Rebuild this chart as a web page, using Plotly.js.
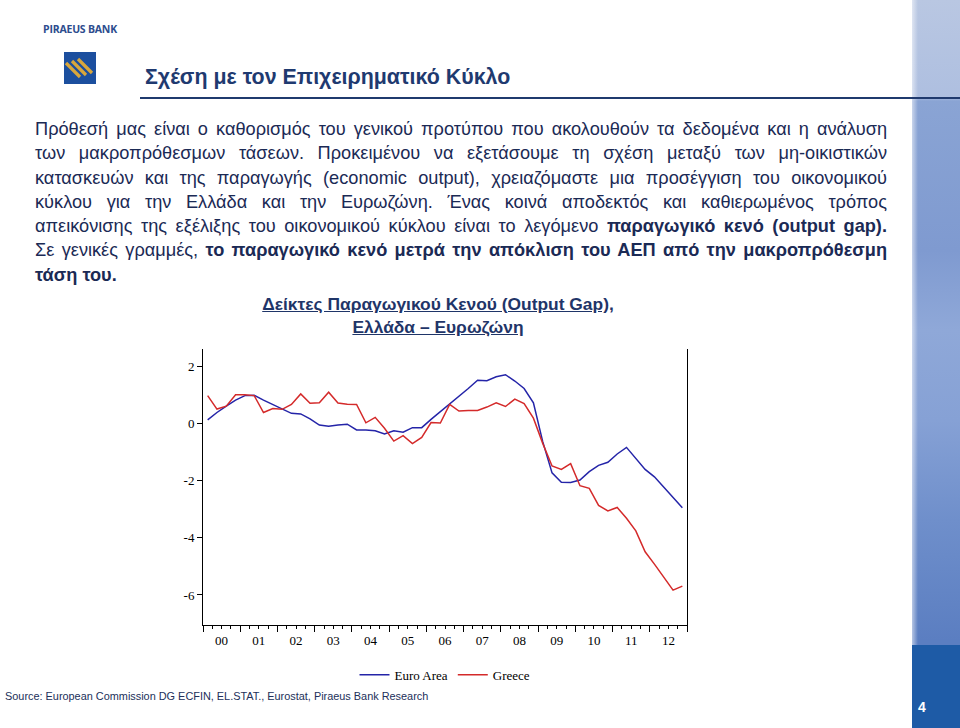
<!DOCTYPE html>
<html>
<head>
<meta charset="utf-8">
<script src="https://cdn.plot.ly/plotly-3.0.1.min.js"></script>
<style>
  html, body { margin:0; padding:0; background:#fff; }
  #page { position:relative; width:960px; height:728px; overflow:hidden; background:#fff; font-family:"Liberation Sans", Arial, sans-serif; }
  .abs { position:absolute; }
  #brand { left:43px; top:22px; font-family:"Open Sans","Liberation Sans",sans-serif; font-weight:700; font-size:10.5px; color:#2d4d8e; letter-spacing:-0.2px; }
  #title { left:145px; top:65px; font-size:21.4px; font-weight:700; color:#1f3a70; white-space:nowrap; }
  #rule { left:140px; top:97px; width:820px; height:2px; background:#1f3a6e; }
  #para { left:35px; top:117px; width:852px; font-size:18.2px; line-height:24.3px; color:#1b2a55; }
  #para .ln { text-align:justify; text-align-last:justify; white-space:nowrap; }
  #para .last { text-align:left; text-align-last:left; }
  #ctitle { left:238px; top:293px; width:400px; text-align:center; font-size:17.4px; font-weight:700; line-height:23px; color:#1f3568; text-decoration:underline; }
  #source { left:5px; top:690px; font-size:10.9px; color:#22305a; white-space:nowrap; }
  #strip { left:912px; top:0; width:48px; height:645px;
    background:
      linear-gradient(90deg, rgba(255,255,255,0.55) 0px, rgba(255,255,255,0) 6px),
      linear-gradient(180deg, #b9c7e2 0px, #aebfe0 97px, #8aa4d4 101px, #7f9ad0 250px, #8fa8d8 330px, #86a1d5 420px, #6f8fcb 520px, #5b7ec1 640px); }
  #stripline { left:912px; top:97px; width:48px; height:2px; background:#1f3a6e; }
  #pagebox { left:912px; top:645px; width:48px; height:83px; background:#1e5ba6; }
  #pagenum { left:918px; top:699px; color:#fff; font-weight:700; font-size:14px; }
  #chart { position:absolute; left:0; top:0; width:960px; height:728px; }
</style>
</head>
<body>
<div id="page">
  <div id="strip" class="abs"></div>
  <div id="stripline" class="abs"></div>
  <div id="pagebox" class="abs"></div>
  <div id="pagenum" class="abs">4</div>
  <div id="brand" class="abs">PIRAEUS BANK</div>
  <svg class="abs" style="left:64px;top:52px" width="32" height="32" viewBox="0 0 32 32">
    <rect x="0" y="0" width="32" height="32" fill="#1c4f9e"/>
    <g stroke="#d9a73c" stroke-width="3.2" stroke-linecap="butt">
      <line x1="2" y1="11" x2="16" y2="25"/>
      <line x1="8" y1="9" x2="22" y2="23"/>
      <line x1="14" y1="7" x2="28" y2="21"/>
    </g>
  </svg>
  <div id="title" class="abs">Σχέση με τον Επιχειρηματικό Κύκλο</div>
  <div id="rule" class="abs"></div>
  <div id="para" class="abs">
    <div class="ln">Πρόθεσή μας είναι ο καθορισμός του γενικού προτύπου που ακολουθούν τα δεδομένα και η ανάλυση</div>
    <div class="ln">των μακροπρόθεσμων τάσεων. Προκειμένου να εξετάσουμε τη σχέση μεταξύ των μη-οικιστικών</div>
    <div class="ln">κατασκευών και της παραγωγής (economic output), χρειαζόμαστε μια προσέγγιση του οικονομικού</div>
    <div class="ln">κύκλου για την Ελλάδα και την Ευρωζώνη. Ένας κοινά αποδεκτός και καθιερωμένος τρόπος</div>
    <div class="ln">απεικόνισης της εξέλιξης του οικονομικού κύκλου είναι το λεγόμενο <b>παραγωγικό κενό (output gap).</b></div>
    <div class="ln">Σε γενικές γραμμές, <b>το παραγωγικό κενό μετρά την απόκλιση του ΑΕΠ από την μακροπρόθεσμη</b></div>
    <div class="ln last"><b>τάση του.</b></div>
  </div>
  <div id="ctitle" class="abs">Δείκτες Παραγωγικού Κενού (Output Gap),<br>Ελλάδα – Ευρωζώνη</div>
  <div id="source" class="abs">Source: European Commission DG ECFIN, EL.STAT., Eurostat, Piraeus Bank Research</div>
  <div id="chart"></div>
</div>
<script>
// Quarterly output gap (% of potential), 2000Q1 - 2012Q4
const yearLabels = ['00','01','02','03','04','05','06','07','08','09','10','11','12'];
const euroArea = [0.12,0.38,0.60,0.81, 0.97,0.98,0.81,0.65, 0.51,0.35,0.33,0.16,
                  -0.06,-0.10,-0.06,-0.03, -0.23,-0.23,-0.26,-0.37, -0.26,-0.31,-0.15,-0.15,
                  0.14,0.41,0.66,0.93, 1.22,1.51,1.49,1.63, 1.70,1.48,1.22,0.72,
                  -0.64,-1.73,-2.06,-2.07, -1.98,-1.69,-1.47,-1.36, -1.07,-0.84,-1.22,-1.61,
                  -1.87,-2.22,-2.57,-2.95];
const greece = [0.97,0.50,0.60,1.00, 1.00,0.97,0.38,0.52, 0.49,0.66,1.03,0.70,
                0.72,1.09,0.71,0.67, 0.66,0.02,0.21,-0.17, -0.62,-0.43,-0.71,-0.49,
                0.03,0.01,0.66,0.43, 0.45,0.45,0.57,0.72, 0.59,0.85,0.69,0.18,
                -0.70,-1.49,-1.61,-1.41, -2.18,-2.27,-2.87,-3.06, -2.94,-3.32,-3.76,-4.49,
                -4.92,-5.38,-5.83,-5.69];
const yTickVals = [-6,-4,-2,0,2];
const yTickText = ['-6','-4','-2','0','2'];

const nQ = euroArea.length;
const qPos = euroArea.map((_, i) => i + 0.5);             // quarter midpoints
const yearStarts = yearLabels.map((_, i) => i * 4).concat([nQ]);
const yearMids = yearLabels.map((_, i) => i * 4 + 2);

const serif = '"Liberation Serif", "Times New Roman", serif';
const tickFont = {family: serif, size: 13, color: '#000'};
const traces = [
  {x: qPos, y: euroArea, name: 'Euro Area', type: 'scatter', mode: 'lines',
   line: {color: '#2424a8', width: 1.5}},
  {x: qPos, y: greece, name: 'Greece', type: 'scatter', mode: 'lines',
   line: {color: '#d42a2a', width: 1.5}},
  {x: [], y: [], xaxis: 'x2', yaxis: 'y', type: 'scatter', mode: 'lines',
   showlegend: false, hoverinfo: 'skip'}
];
const layout = {
  width: 960, height: 728,
  margin: {l: 203, r: 273, t: 349, b: 103},
  paper_bgcolor: 'rgba(0,0,0,0)', plot_bgcolor: 'rgba(0,0,0,0)',
  showlegend: true,
  legend: {orientation: 'h', x: 0.5, xanchor: 'center', y: -0.18, yanchor: 'middle',
           font: {family: serif, size: 13, color: '#000'}, bgcolor: 'rgba(0,0,0,0)'},
  xaxis: {range: [0, nQ], tickvals: yearStarts, showticklabels: false,
          ticks: 'outside', ticklen: 6, tickcolor: '#000', tickwidth: 1,
          minor: {dtick: 1, tick0: 0, ticks: 'outside', ticklen: 3, tickcolor: '#000', showgrid: false},
          showline: true, linecolor: '#000', linewidth: 1, mirror: false,
          showgrid: false, zeroline: false},
  xaxis2: {overlaying: 'x', anchor: 'y', side: 'bottom', range: [0, nQ],
           tickvals: yearMids, ticktext: yearLabels,
           ticks: 'outside', ticklen: 3, tickcolor: 'rgba(0,0,0,0)',
           showline: false, showgrid: false, zeroline: false, tickfont: tickFont},
  yaxis: {range: [-7.05, 2.6], tickvals: yTickVals, ticktext: yTickText,
          ticks: 'outside', ticklen: 5, tickcolor: '#000',
          showline: true, linecolor: '#000', linewidth: 1, mirror: true,
          showgrid: false, zeroline: false, tickfont: tickFont}
};
Plotly.newPlot('chart', traces, layout, {displayModeBar: false, staticPlot: true});
</script>
</body>
</html>
